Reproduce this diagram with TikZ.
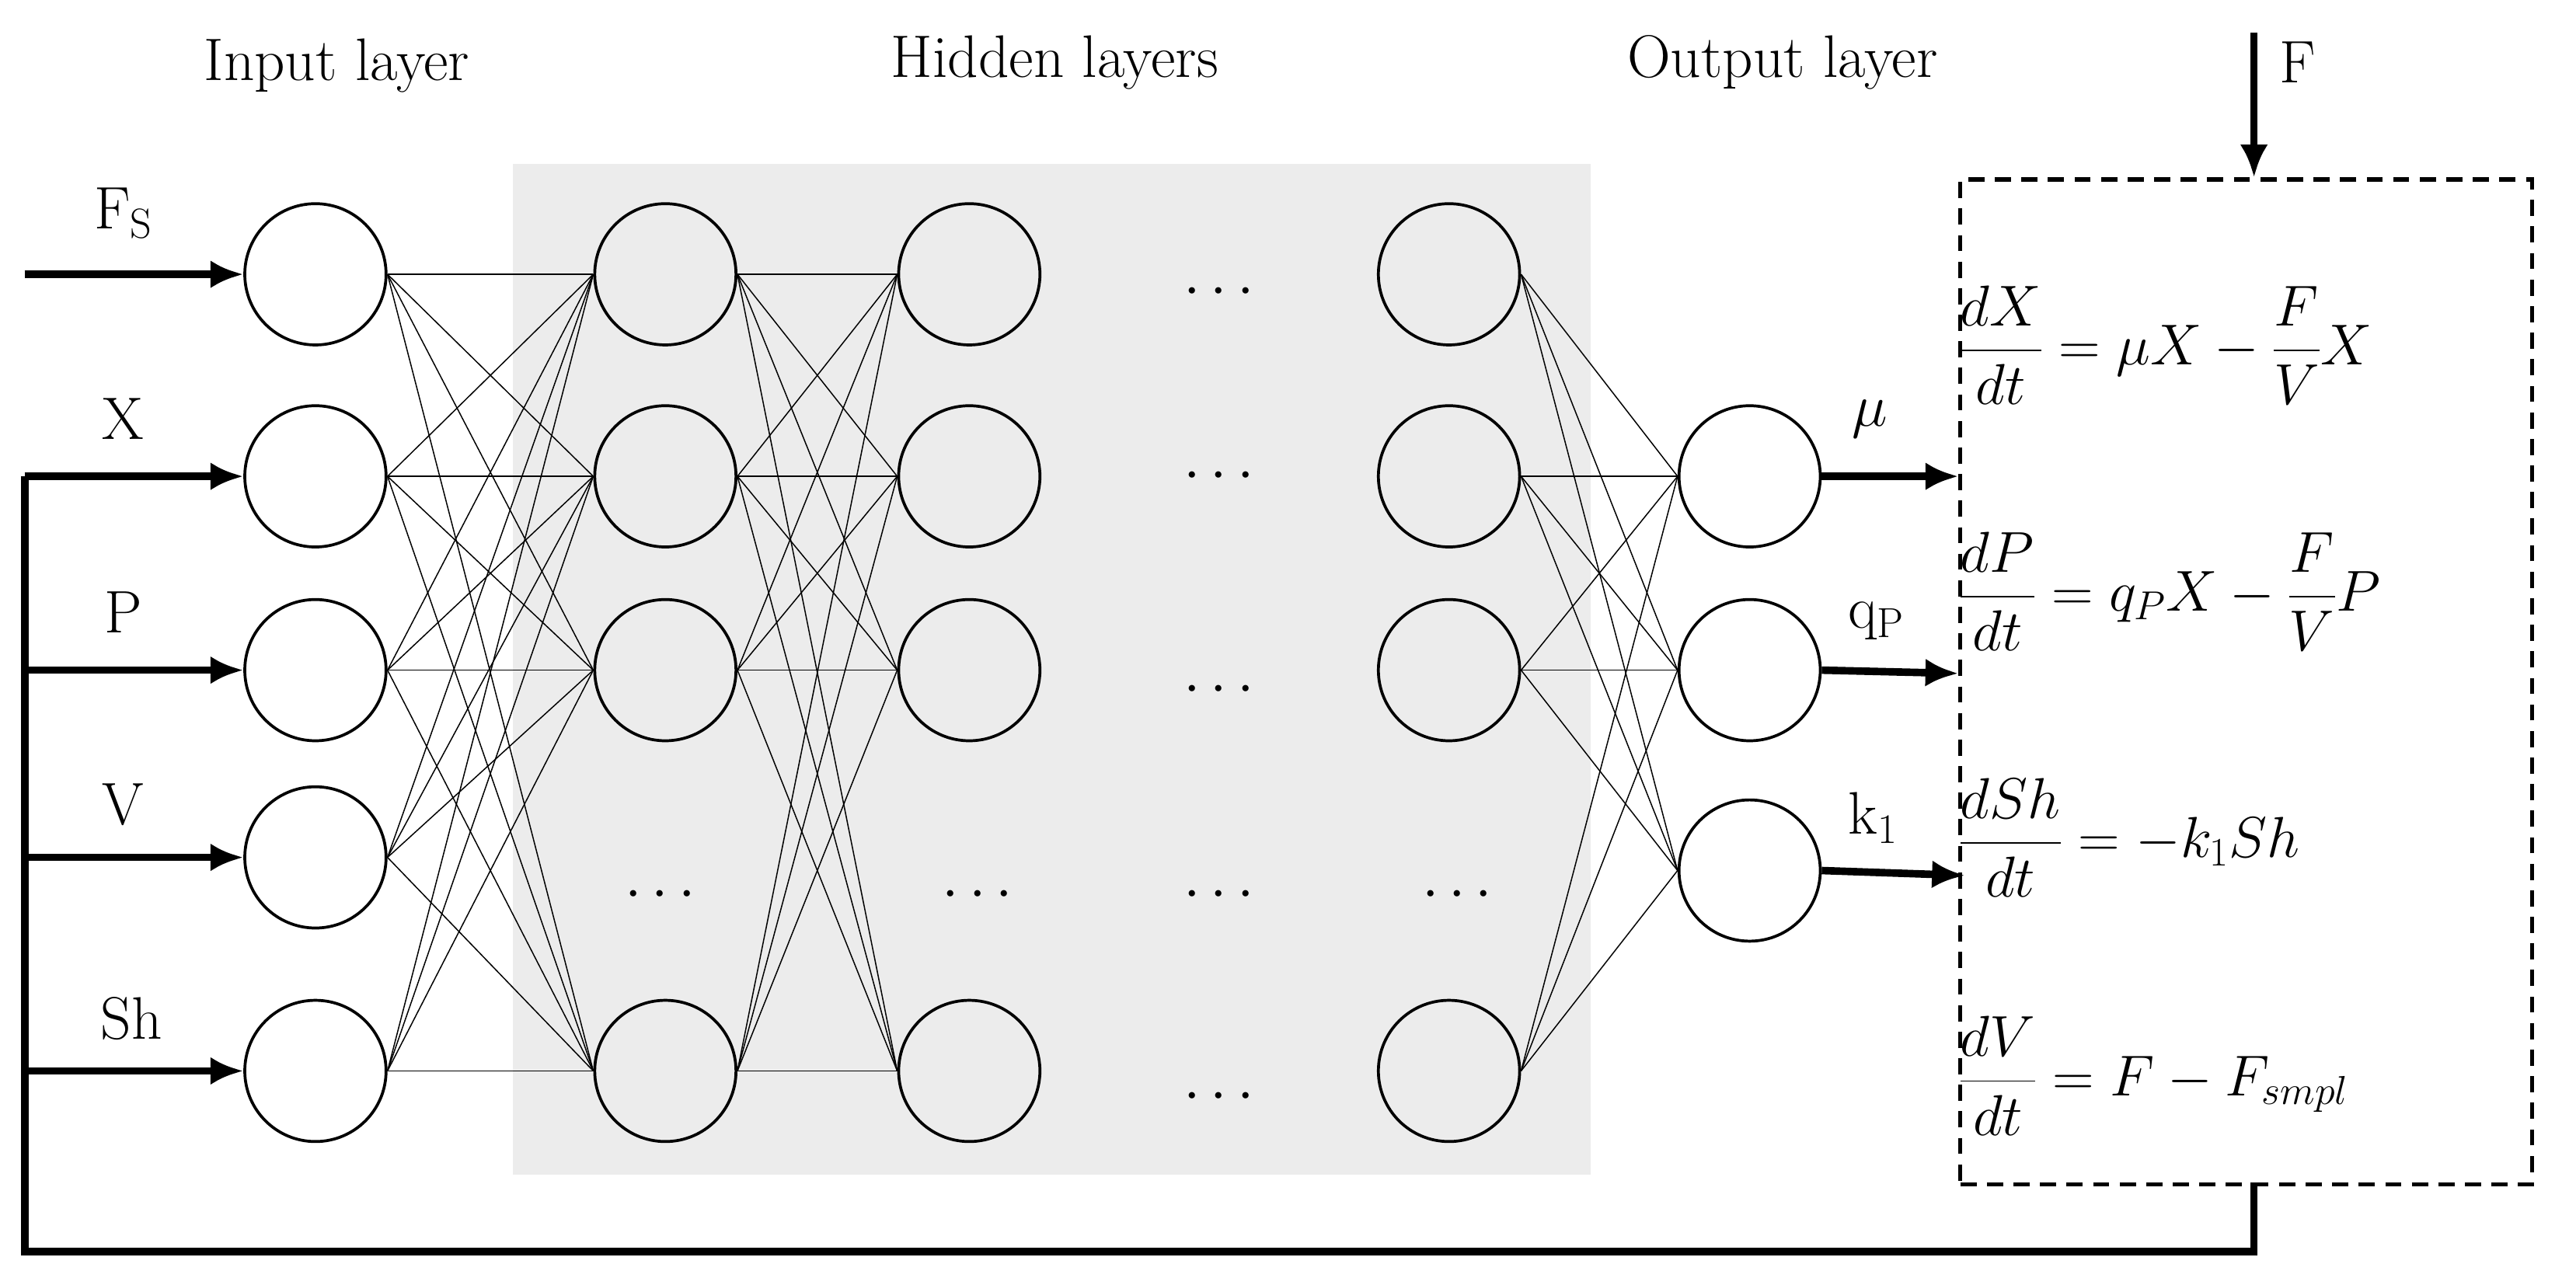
\RequirePackage{fix-cm}
\documentclass[tikz,border=0pt]{standalone}
\usepackage{amsmath}
\usetikzlibrary{arrows.meta}
\begin{document}
\begin{tikzpicture}[x=0.05cm,y=-0.05cm,
  neu/.style={circle,draw,line width=2.5pt,minimum size=4.3cm,inner sep=0pt},
  con/.style={line width=1pt},
  arr/.style={line width=6.5pt,-{Latex[length=1cm,width=0.85cm]}},
  lab/.style={font=\fontsize{52}{62}\selectfont},
  eq/.style={font=\fontsize{50}{60}\selectfont,anchor=west}]
\useasboundingbox (0,0) rectangle (1568,782);
\fill[gray!15] (312,100) rectangle (968,715);
\foreach \y/\n in {167/1,290/2,408/3,522/4,652/5}{\node[neu] (i\n) at (192,\y) {};}
\foreach \y/\n in {167/1,290/2,408/3,652/5}{
  \node[neu] (a\n) at (405,\y) {};
  \node[neu] (b\n) at (590,\y) {};
  \node[neu] (c\n) at (882,\y) {};}
\foreach \y/\n in {290/1,408/2,530/3}{\node[neu] (o\n) at (1065,\y) {};}
\foreach \i in {1,2,3,4,5}{\foreach \j in {1,2,3,5}{\draw[con] (i\i.east) -- (a\j.west);}}
\foreach \i in {1,2,3,5}{\foreach \j in {1,2,3,5}{\draw[con] (a\i.east) -- (b\j.west);}}
\foreach \i in {1,2,3,5}{\foreach \j in {1,2,3}{\draw[con] (c\i.east) -- (o\j.west);}}
\foreach \p in {(745,178),(745,290),(745,420),(745,545),(745,668),(405,545),(598,545),(890,545)}
  \node[lab] at \p {$\cdots$};
\node[lab] at (205,40) {Input layer};
\node[lab] at (642,38) {Hidden layers};
\node[lab] at (1085,38) {Output layer};
% dashed box
\node[draw,line width=3.5pt,dash pattern=on 14pt off 9pt,minimum width=17.4cm,minimum height=30.6cm,anchor=north west,inner sep=0pt] (box) at (1192,108) {};
\coordinate (ftop) at (1372,20);
\draw[arr] (ftop) -- (ftop|-box.north);
\node[lab,anchor=west] at (1385,38) {F};
% inputs
\coordinate (fs) at (15,167);
\draw[arr] (fs) -- (i1.west);
\node[lab] at (75,130) {F\textsubscript{S}};
\coordinate (b0) at (1372,720);
\coordinate (b1) at (1372,762);
\coordinate (b2) at (15,762);
\coordinate (b3) at (15,290);
\draw[line width=6.5pt,line join=miter] (b0) -- (b1) -- (b2) -- (b3);
\foreach \n/\y in {2/290,3/408,4/522,5/652}{\draw[arr] (15,\y) -- (i\n.west);}
\node[lab] at (75,255) {X};
\node[lab] at (75,373) {P};
\node[lab] at (75,490) {V};
\node[lab] at (80,620) {Sh};
% outputs
\coordinate (e1) at (1192,290);
\coordinate (e2) at (1192,410);
\coordinate (e3) at (1196,533);
\draw[arr] (o1.east) -- (e1);
\draw[arr] (o2.east) -- (e2);
\draw[arr] (o3.east) -- (e3);
\node[lab] at (1138,255) {$\mu$};
\node[lab] at (1142,378) {q\textsubscript{P}};
\node[lab] at (1140,498) {k\textsubscript{1}};
\node[eq] at (1190,210) {$\dfrac{dX}{dt}=\mu X-\dfrac{F}{V}X$};
\node[eq] at (1190,360) {$\dfrac{dP}{dt}=q_P X-\dfrac{F}{V}P$};
\node[eq] at (1190,510) {$\dfrac{dSh}{dt}=-k_1 Sh$};
\node[eq] at (1190,655) {$\dfrac{dV}{dt}=F-F_{smpl}$};
\end{tikzpicture}
\end{document}
